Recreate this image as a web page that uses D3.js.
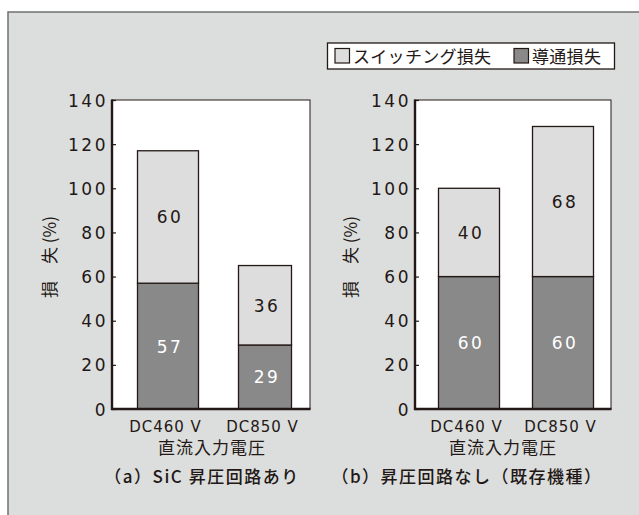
<!DOCTYPE html>
<html><head><meta charset="utf-8">
<script src="https://cdn.jsdelivr.net/npm/d3@7"></script>
<style>
html,body{margin:0;padding:0;background:#fff;}
svg{display:block;}
.num{font-family:"DejaVu Sans",sans-serif;}
.jp{font-family:"Noto Sans CJK JP",sans-serif;}
.pre{white-space:pre;}
</style></head><body>
<svg id="c" width="639" height="515"></svg>
<script>
// ---- data ----
const categories = ["DC460 V", "DC850 V"];
const switchingA = [60, 36];
const conductionA = [57, 29];
const switchingB = [40, 68];
const conductionB = [60, 60];
const yTicks = [0, 20, 40, 60, 80, 100, 120, 140];
const seriesNames = ["スイッチング損失", "導通損失"];
const yLabel = "損　失 (%)";
const xLabel = "直流入力電圧";
const titleA = "（a）SiC 昇圧回路あり";
const titleB = "（b）昇圧回路なし（既存機種）";

const C = {bg:"#dcdedd", light:"#dcdddc", dark:"#898989", ink:"#231815", frame:"#707070"};

const svg = d3.select("#c");
// outer frame
svg.append("rect").attr("x",8).attr("y",12).attr("width",639).attr("height",515)
  .attr("fill",C.bg).attr("stroke",C.frame).attr("stroke-width",1.5);

// legend
const lg = svg.append("g");
lg.append("rect").attr("x",327.5).attr("y",43).attr("width",287).attr("height",26)
  .attr("fill","#fff").attr("stroke",C.ink).attr("stroke-width",1.3);
[[335, C.light, 353, seriesNames[0]], [514, C.dark, 532, seriesNames[1]]].forEach(([x,f,tx,t])=>{
  lg.append("rect").attr("x",x).attr("y",48.5).attr("width",14.5).attr("height",14.5)
    .attr("fill",f).attr("stroke",C.ink).attr("stroke-width",1.2);
  lg.append("text").attr("class","jp").attr("x",tx).attr("y",62.5).attr("font-size",17)
    .attr("letter-spacing",0.3).attr("fill",C.ink).text(t);
});

function panel(cfg){
  const {left,right,top,bottom,c1,c2,widths,sw,cd,ylabX,title,titleX,xlabX} = cfg;
  const g = svg.append("g");
  const y = d3.scaleLinear().domain([0,140]).range([bottom,top]);
  const x = d3.scalePoint().domain(categories).range([c1,c2]);
  g.append("rect").attr("x",left).attr("y",top).attr("width",right-left).attr("height",bottom-top)
    .attr("fill","#fff").attr("stroke",C.ink).attr("stroke-width",1);
  const stacked = categories.map((k,i)=>({k,i,cd:cd[i],sw:sw[i]}));
  g.selectAll(".cd").data(stacked).join("rect")
    .attr("x",d=>x(d.k)-widths[d.i]/2).attr("width",d=>widths[d.i])
    .attr("y",d=>y(d.cd)).attr("height",d=>y(0)-y(d.cd))
    .attr("fill",C.dark).attr("stroke",C.ink).attr("stroke-width",1.3);
  g.selectAll(".sw").data(stacked).join("rect")
    .attr("x",d=>x(d.k)-widths[d.i]/2).attr("width",d=>widths[d.i])
    .attr("y",d=>y(d.cd+d.sw)).attr("height",d=>y(d.cd)-y(d.cd+d.sw))
    .attr("fill",C.light).attr("stroke",C.ink).attr("stroke-width",1.3);
  // value labels
  g.selectAll(".vc").data(stacked).join("text").attr("class","num")
    .attr("x",d=>x(d.k)+2).attr("y",d=>y(d.cd/2)+6.5).attr("text-anchor","middle")
    .attr("font-size",17).attr("letter-spacing",2.5).attr("fill","#fff").text(d=>d.cd);
  g.selectAll(".vs").data(stacked).join("text").attr("class","num")
    .attr("x",d=>x(d.k)+2).attr("y",d=>y(d.cd+d.sw/2)+6.5).attr("text-anchor","middle")
    .attr("font-size",17).attr("letter-spacing",2.5).attr("fill",C.ink).text(d=>d.sw);
  // axes
  const ya = g.append("g").attr("transform",`translate(${left},0)`)
    .call(d3.axisLeft(y).tickValues(yTicks).tickSize(-4).tickPadding(8));
  ya.select(".domain").remove();
  ya.selectAll("line").attr("stroke",C.ink).attr("stroke-width",1.2);
  ya.selectAll("text").attr("class","num").attr("font-size",17).attr("letter-spacing",2.5)
    .attr("fill",C.ink).attr("dy","0.36em").attr("x",-4);
  g.append("line").attr("x1",left).attr("x2",left).attr("y1",top-0.5).attr("y2",bottom+1)
    .attr("stroke",C.ink).attr("stroke-width",2.4);
  g.append("line").attr("x1",left-1).attr("x2",right+0.5).attr("y1",bottom).attr("y2",bottom)
    .attr("stroke",C.ink).attr("stroke-width",2.4);
  const xa = g.append("g").attr("transform",`translate(0,${bottom})`)
    .call(d3.axisBottom(x).tickSize(0).tickPadding(0));
  xa.select(".domain").remove();
  xa.selectAll("text").attr("class","num").attr("font-size",15).attr("letter-spacing",1)
    .attr("fill",C.ink).attr("y",23).attr("dy",0).attr("dx",-3);
  g.append("text").attr("class","jp").attr("x",xlabX).attr("y",454).attr("text-anchor","middle")
    .attr("font-size",17).attr("letter-spacing",1).attr("fill",C.ink).text(xLabel);
  g.append("text").attr("class","jp pre").attr("transform",`translate(${ylabX},257) rotate(-90)`)
    .attr("text-anchor","middle").attr("font-size",17).attr("fill",C.ink).text(yLabel);
  g.append("text").attr("class","jp").attr("x",titleX).attr("y",483).attr("text-anchor","middle")
    .attr("font-size",17).attr("font-weight",500).attr("letter-spacing",1.5).attr("fill",C.ink).text(title);
}

panel({left:112,right:310,top:100,bottom:409,c1:168,c2:265,widths:[61,53],
  sw:switchingA,cd:conductionA,ylabX:56,title:titleA,titleX:202,xlabX:212});
panel({left:415,right:611,top:100,bottom:409,c1:469,c2:563,widths:[61,61],
  sw:switchingB,cd:conductionB,ylabX:357,title:titleB,titleX:467,xlabX:503});
</script>
</body></html>
